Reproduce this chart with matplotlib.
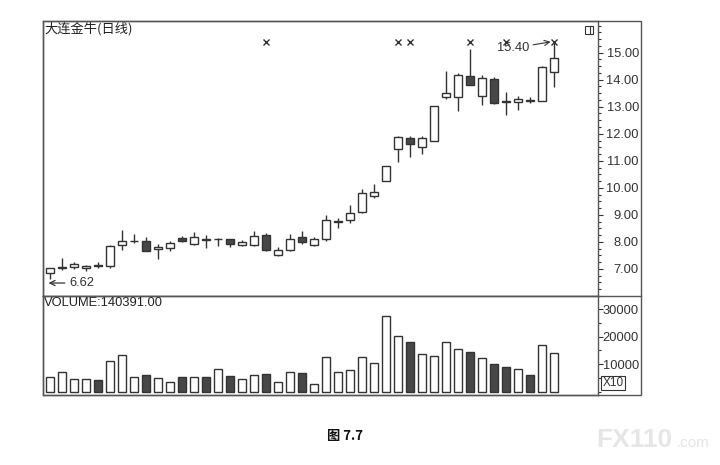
import matplotlib
matplotlib.use("Agg")
import matplotlib.pyplot as plt
from matplotlib.patches import Rectangle
from matplotlib.lines import Line2D
from matplotlib.ticker import MultipleLocator, FuncFormatter

plt.rcParams['font.family'] = ['Liberation Sans', 'Noto Sans CJK SC', 'DejaVu Sans']

# ---- data ----
opens  = [6.84, 7.05, 7.08, 7.04, 7.13, 7.11, 7.90, 8.03, 8.05, 7.75,
          7.79, 8.15, 7.92, 8.12, 8.09, 8.10, 7.87, 7.87, 8.25, 7.53,
          7.69, 8.18, 7.90, 8.10, 8.72, 8.82, 9.10, 9.71, 10.27, 11.43,
          11.86, 11.50, 11.73, 13.35, 13.37, 14.15, 13.40, 14.02, 13.20, 13.16,
          13.23, 13.21, 14.30]
highs  = [7.03, 7.40, 7.27, 7.15, 7.27, 7.88, 8.44, 8.28, 8.19, 7.91,
          8.04, 8.21, 8.38, 8.26, 8.16, 8.12, 8.07, 8.42, 8.34, 7.83,
          8.29, 8.42, 8.19, 9.00, 8.87, 9.35, 9.95, 10.13, 10.81, 11.90,
          11.92, 11.92, 13.04, 14.33, 14.26, 15.12, 14.17, 14.10, 13.56, 13.40,
          13.37, 14.50, 15.40]
lows   = [6.62, 6.98, 7.00, 6.94, 7.03, 7.05, 7.70, 7.95, 7.65, 7.36,
          7.67, 8.00, 7.90, 7.76, 7.85, 7.83, 7.84, 7.85, 7.66, 7.48,
          7.66, 7.92, 7.86, 8.05, 8.50, 8.70, 9.08, 9.61, 10.27, 10.97,
          11.15, 11.24, 11.73, 13.29, 12.84, 13.80, 13.07, 13.10, 12.70, 12.88,
          13.15, 13.21, 13.72]
closes = [7.03, 7.09, 7.17, 7.10, 7.11, 7.86, 8.04, 8.05, 7.68, 7.82,
          7.95, 8.05, 8.20, 8.08, 8.11, 7.93, 7.99, 8.21, 7.70, 7.69,
          8.12, 7.98, 8.12, 8.81, 8.77, 9.07, 9.80, 9.84, 10.81, 11.89,
          11.63, 11.85, 13.04, 13.52, 14.17, 13.80, 14.08, 13.15, 13.17, 13.30,
          13.21, 14.48, 14.79]
volumes = [5450, 7030, 4600, 4700, 4120, 11150, 13200, 5200, 5940, 4850,
           3400, 5330, 5330, 5330, 8240, 5700, 4480, 5940, 6300, 3500,
           7150, 6790, 2790, 12800, 7030, 7880, 12480, 10420, 27630, 20240,
           17940, 13820, 12970, 18180, 15510, 14540, 12360, 10180, 9090, 8240,
           6060, 16970, 14180]
marker_idx = [18, 29, 30, 35, 38, 42]
marker_price = 15.40
title_text = "大连金牛(日线)"
volume_text = "VOLUME:140391.00"
low_label = "6.62"
high_label = "15.40"
price_ticks = [7, 8, 9, 10, 11, 12, 13, 14, 15]
vol_ticks = [10000, 20000, 30000]
caption = "图 7.7"

W, H = 720, 465
fig = plt.figure(figsize=(W / 100, H / 100), dpi=100)

def fx(px):
    return px / W

def fy(py):
    return 1 - py / H

L, R = 43, 598
T, M, B = 21, 296, 395
ax = fig.add_axes([fx(L), fy(M), fx(R - L), fy(T) - fy(M)])
axv = fig.add_axes([fx(L), fy(B), fx(R - L), fy(M) - fy(B)])

edge = '#333333'
dark = '#474747'
frame = '#555555'
n = len(opens)
xs = list(range(n))
bw = 0.68

for a in (ax, axv):
    a.set_xlim(-0.56, 45.7)
    a.set_xticks([])
    for s in a.spines.values():
        s.set_color(frame)
        s.set_linewidth(1.0)
    a.yaxis.tick_right()
    a.tick_params(axis='y', which='major', direction='out', length=3.5, width=0.8,
                  color=edge, labelsize=9.3, labelcolor='#333333', pad=26.0)
    a.tick_params(axis='y', which='minor', direction='out', length=2, width=0.8, color=edge)

# ---- candles ----
for i in xs:
    o, h, l, c = opens[i], highs[i], lows[i], closes[i]
    up = c >= o
    ax.vlines(i, l, h, color=edge, lw=1.0, zorder=2)
    lo, hi = min(o, c), max(o, c)
    height = max(hi - lo, 0.015)
    ax.bar(i, height, bottom=lo, width=bw,
           facecolor='white' if up else dark, edgecolor=edge, linewidth=1.0, zorder=3)

ax.plot(marker_idx, [marker_price] * len(marker_idx), linestyle='none', marker='x',
        markersize=4.2, color=edge, mew=1.0, zorder=4)

ax.set_ylim(6.0, 16.17)
ax.set_yticks(price_ticks)
ax.yaxis.set_minor_locator(MultipleLocator(0.25))
ax.yaxis.set_major_formatter(FuncFormatter(lambda v, p: f"{v:.2f}"))
for lab in ax.get_yticklabels():
    lab.set_horizontalalignment('right')

ax.text(0.002, 0.995, title_text, transform=ax.transAxes, ha='left', va='top',
        fontsize=9.5, family=['Noto Sans CJK SC', 'DejaVu Sans'], color='#222222')

ax.annotate(low_label, xy=(-0.1, 6.48), xytext=(1.6, 6.48), va='center', ha='left',
            fontsize=9.3, color='#333333',
            arrowprops=dict(arrowstyle='->', color=edge, lw=0.9, shrinkA=1, shrinkB=0))
ax.annotate(high_label, xy=(41.75, 15.40), xytext=(39.95, 15.16), va='center', ha='right',
            fontsize=9.3, color='#333333',
            arrowprops=dict(arrowstyle='->', color=edge, lw=0.8, shrinkA=1, shrinkB=0))

# small icon top-right of price panel
fig.patches.append(Rectangle((fx(585), fy(34)), fx(8), fy(26) - fy(34), transform=fig.transFigure,
                             facecolor='white', edgecolor=edge, lw=0.8))
fig.lines.append(Line2D([fx(590), fx(590)], [fy(34), fy(26)], transform=fig.transFigure,
                        color=edge, lw=0.8))

# ---- volume ----
vcols = ['white' if closes[i] >= opens[i] else dark for i in xs]
axv.bar(xs, volumes, width=bw, color=vcols, edgecolor=edge, linewidth=1.0, zorder=3)
axv.set_ylim(-1200, 34800)
axv.set_yticks(vol_ticks)
axv.yaxis.set_minor_locator(MultipleLocator(5000))
axv.yaxis.set_major_formatter(FuncFormatter(lambda v, p: f"{int(v)}"))
for lab in axv.get_yticklabels():
    lab.set_horizontalalignment('right')
axv.text(0.002, 0.985, volume_text, transform=axv.transAxes, ha='left', va='top',
         fontsize=9.3, color='#222222')

# X10 box
fig.text(fx(613), fy(383), "X10", ha='center', va='center', fontsize=8.5, color='#333333',
         bbox=dict(boxstyle='square,pad=0.12', facecolor='white', edgecolor=edge, lw=0.8))

# outer frame
fig.patches.append(Rectangle((fx(L), fy(B)), fx(641 - L), fy(T) - fy(B), transform=fig.transFigure,
                             fill=False, edgecolor=frame, lw=1.0))
fig.lines.append(Line2D([fx(L), fx(641)], [fy(M), fy(M)], transform=fig.transFigure,
                        color=frame, lw=1.0))

# caption and watermark
fig.text(fx(345), fy(436), caption, ha='center', va='center', fontsize=9.5, weight='bold',
         family=['Noto Sans CJK SC', 'DejaVu Sans'], color='#111111')
fig.text(fx(596), fy(440), "FX110", ha='left', va='center', fontsize=19, weight='bold',
         color='#e6e6e6')
fig.text(fx(677), fy(443), ".com", ha='left', va='center', fontsize=11, color='#e6e6e6')

fig.savefig("out.png", dpi=100, facecolor='white')
